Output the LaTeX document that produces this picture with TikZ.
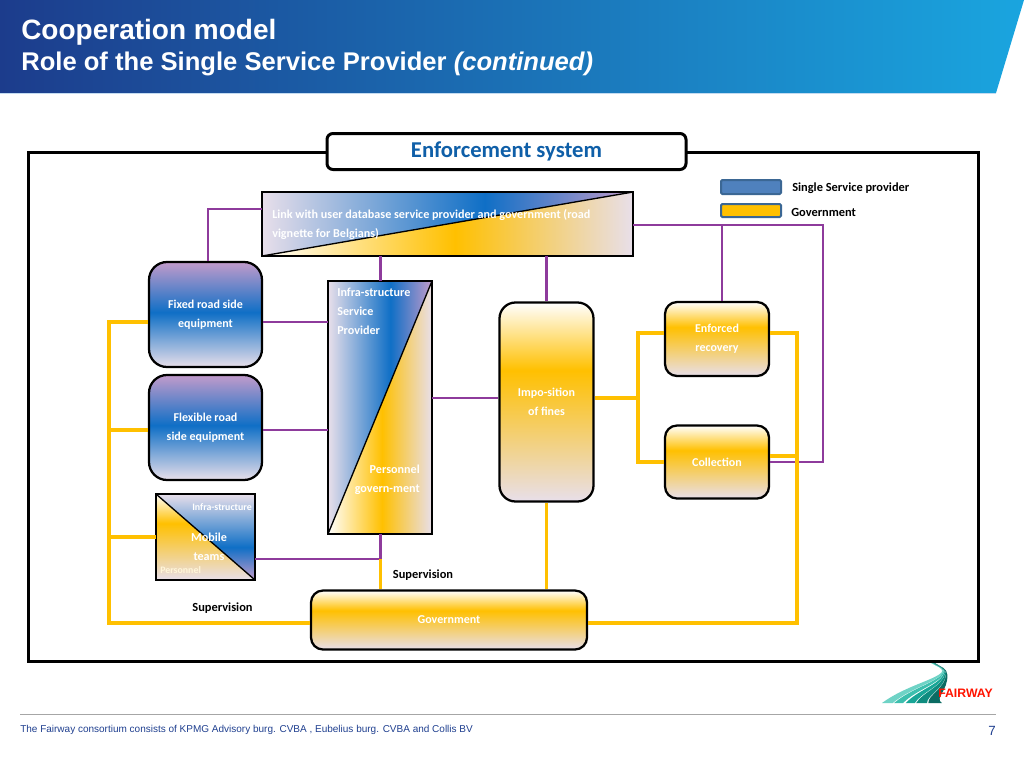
\documentclass[tikz,border=0pt]{standalone}
\usepackage{fontspec}
\setmainfont{Carlito}
\newfontfamily\arialfont{Liberation Sans}
\definecolor{fwpurple}{HTML}{8E3B9C}
\definecolor{fwyellow}{HTML}{FFC000}
\definecolor{fwblue}{HTML}{0F6FC6}
\definecolor{fwlav}{HTML}{E8DFEA}
\definecolor{fwmauve}{HTML}{C29BCB}
\definecolor{fwtitle}{HTML}{0F5FA8}
\definecolor{fwnavy}{HTML}{1F3F8F}
\definecolor{bandleft}{HTML}{1C3C8C}
\definecolor{bandmid}{HTML}{1A57A3}
\definecolor{bandright}{HTML}{1AA5DF}
\definecolor{keyblue}{HTML}{4F81BD}
\definecolor{keyedge}{HTML}{3B6794}
\pgfdeclareverticalshading{bluerise}{100bp}{color(0bp)=(fwlav); color(25bp)=(fwlav); color(51bp)=(fwblue); color(75bp)=(fwmauve); color(100bp)=(fwmauve)}
\pgfdeclareverticalshading{yellowrise}{100bp}{color(0bp)=(fwlav); color(25bp)=(fwlav); color(58bp)=(fwyellow); color(75bp)=(white); color(100bp)=(white)}
\pgfdeclareverticalshading{bluedrop}{100bp}{color(0bp)=(fwmauve); color(25bp)=(fwmauve); color(44bp)=(fwblue); color(75bp)=(fwlav); color(100bp)=(fwlav)}
\pgfdeclarehorizontalshading{bluewide}{100bp}{color(0bp)=(fwlav); color(25bp)=(fwlav); color(55bp)=(fwblue); color(75bp)=(fwmauve); color(100bp)=(fwmauve)}
\pgfdeclarehorizontalshading{yellowwide}{100bp}{color(0bp)=(white); color(25bp)=(white); color(51bp)=(fwyellow); color(75bp)=(fwlav); color(100bp)=(fwlav)}
\tikzset{
  linkp/.style={draw=fwpurple,line width=1.9pt},
  linky/.style={draw=fwyellow,line width=2.4pt},
  blockb/.style={draw=black,line width=1.7pt,shade,shading=bluerise,text=white,align=center,font=\fontsize{9}{14.25}\bfseries,inner sep=0pt},
  blocky/.style={draw=black,line width=1.7pt,shade,shading=yellowrise,text=white,align=center,font=\fontsize{9}{14.25}\bfseries,inner sep=0pt},
  slab/.style={inner sep=0pt,outer sep=0pt},
  slabline/.style={draw=black,line width=1pt},
  intext/.style={text=white,font=\fontsize{9.1}{14.25}\bfseries,inner sep=0pt},
  tinytext/.style={text=white,font=\fontsize{7.4}{8}\bfseries,inner sep=0pt},
  keytext/.style={text=black,font=\fontsize{9.3}{11}\bfseries,inner sep=0pt},
  foottext/.style={text=fwnavy,font=\arialfont\fontsize{7.5}{9}\selectfont,inner sep=0pt}
}
\begin{document}
\begin{tikzpicture}[x=0.75pt,y=-0.75pt,line cap=butt,line join=miter]
\useasboundingbox (0,0) rectangle (1024,768);
% header band
\shade[left color=bandleft,middle color=bandmid,right color=bandright] (0,0) -- (1024,0) -- (996,93) -- (0,93) -- cycle;
\draw[fwblue!25,line width=0.8pt] (0,93.5) -- (996,93.5);
\node[anchor=west,text=white,inner sep=0pt,font=\arialfont\fontsize{21}{24}\bfseries] (head) at (21,32) {Cooperation model};
\node[anchor=west,text=white,inner sep=0pt,font=\arialfont\fontsize{19.2}{22}\bfseries] (subhead) at (21,64) {Role of the Single Service Provider \textit{(continued)}};
% frame
\node[draw=black,line width=2.25pt,minimum width=712.5pt,minimum height=381.75pt,inner sep=0pt] (frame) at (503,406.5) {};
\node[draw=black,fill=white,line width=2.25pt,rounded corners=4.5pt,minimum width=269.25pt,minimum height=27pt,text=fwtitle,font=\fontsize{17}{18}\bfseries,inner sep=0pt] (title) at (506.5,151.5) {Enforcement system};
% key
\node[draw=keyedge,fill=keyblue,line width=1.5pt,rounded corners=1pt,minimum width=45pt,minimum height=10.5pt,inner sep=0pt] (keyb) at (751,187) {};
\node[draw=keyedge,fill=fwyellow,line width=1.5pt,rounded corners=1pt,minimum width=45pt,minimum height=9.75pt,inner sep=0pt] (keyy) at (751,210.5) {};
\node[keytext,anchor=west] (keybtext) at (792,188.5) {Single Service provider};
\node[keytext,anchor=west] (keyytext) at (791,212) {Government};
% blocks
\node[slab,minimum width=278.25pt,minimum height=48pt] (link) at (447.5,224) {};
\shade[shading=bluewide] (link.south west) -- (link.north east) -- (link.north west) -- cycle;
\shade[shading=yellowwide] (link.south west) -- (link.north east) -- (link.south east) -- cycle;
\draw[slabline] (link.south west) -- (link.north east);
\draw[slabline] (link.south west) rectangle (link.north east);
\node[slab,minimum width=78pt,minimum height=189.75pt] (infra) at (380,407.5) {};
\shade[shading=bluewide] (infra.south west) -- (infra.north east) -- (infra.north west) -- cycle;
\shade[shading=yellowwide] (infra.south west) -- (infra.north east) -- (infra.south east) -- cycle;
\draw[slabline] (infra.south west) -- (infra.north east);
\draw[slabline] (infra.south west) rectangle (infra.north east);
\node[slab,minimum width=74.25pt,minimum height=64.5pt] (mobile) at (205.5,537) {};
\shade[shading=bluedrop] (mobile.north west) -- (mobile.north east) -- (mobile.south east) -- cycle;
\shade[shading=yellowrise] (mobile.north west) -- (mobile.south west) -- (mobile.south east) -- cycle;
\draw[slabline] (mobile.north west) -- (mobile.south east);
\draw[slabline] (mobile.south west) rectangle (mobile.north east);
\node[blockb,rounded corners=13.5pt,minimum width=84.75pt,minimum height=78.75pt] (fixed) at (205.5,314.5) {Fixed road side\\equipment};
\node[blockb,rounded corners=13.5pt,minimum width=84.75pt,minimum height=78.75pt] (flex) at (205.5,427.5) {Flexible road\\side equipment};
\node[blocky,rounded corners=12pt,minimum width=70.5pt,minimum height=149.25pt] (impo) at (546.5,402) {Impo-sition\\of fines};
\node[blocky,rounded corners=9pt,minimum width=78pt,minimum height=55.5pt] (recovery) at (717,339) {Enforced\\recovery};
\node[blocky,rounded corners=9pt,minimum width=78pt,minimum height=54.75pt] (collect) at (717,462) {Collection};
\node[blocky,rounded corners=9pt,minimum width=207pt,minimum height=44.25pt] (govt) at (449,620) {Government};
% texts inside the split blocks
\node[intext,anchor=west,align=left] (linktext) at (272,224.5) {Link with user database service provider and government (road\\vignette for Belgians)};
\node[intext,anchor=north west,align=left] (infratext) at (337,288) {Infra-structure\\Service\\Provider};
\node[intext,anchor=east,align=right] (persontext) at (420,480) {Personnel\\govern-ment};
\node[tinytext,anchor=east] (mobinfra) at (252,507) {Infra-structure};
\node[intext,align=center] (mobtext) at (209,547) {Mobile\\teams};
\node[tinytext,anchor=west,text=white!85!fwyellow] (mobperson) at (160,570) {Personnel};
\node[keytext] (supa) at (423,575.5) {Supervision};
\node[keytext] (supb) at (222.5,608) {Supervision};
% connector rows and columns
\coordinate (colleft) at (109,0);
\coordinate (colsplit) at (638,0);
\coordinate (colright) at (797,0);
\coordinate (colfar) at (823,0);
\coordinate (collink) at (208,0);
\coordinate (colinfra) at (380.5,0);
\coordinate (colimpo) at (546.5,0);
\coordinate (colrec) at (722,0);
\coordinate (rowfixed) at (0,322);
\coordinate (rowflex) at (0,430);
\coordinate (rowmob) at (0,537);
\coordinate (rowteam) at (0,559);
\coordinate (rowlink) at (0,209);
\coordinate (rowlinkb) at (0,225);
\coordinate (rowimpo) at (0,398);
\coordinate (rowrec) at (0,333);
\coordinate (rowcol) at (0,462);
\coordinate (rowcolb) at (0,456);
\coordinate (rowgov) at (0,623);
% purple links
\draw[linkp] (link.west |- rowlink) -- (collink |- rowlink) -- (collink |- fixed.north);
\draw[linkp] (colinfra |- link.south) -- (colinfra |- infra.north);
\draw[linkp] (colimpo |- link.south) -- (colimpo |- impo.north);
\draw[linkp] (link.east |- rowlinkb) -- (colfar |- rowlinkb) -- (colfar |- rowcol) -- (collect.east |- rowcol);
\draw[linkp] (colrec |- rowlinkb) -- (colrec |- recovery.north);
\draw[linkp] (fixed.east |- rowfixed) -- (infra.west |- rowfixed);
\draw[linkp] (flex.east |- rowflex) -- (infra.west |- rowflex);
\draw[linkp] (infra.east |- rowimpo) -- (impo.west |- rowimpo);
\draw[linkp] (colinfra |- infra.south) -- (colinfra |- rowteam) -- (mobile.east |- rowteam);
% yellow links
\draw[linky] (fixed.west |- rowfixed) -- (colleft |- rowfixed) -- (colleft |- rowgov) -- (govt.west |- rowgov);
\draw[linky] (flex.west |- rowflex) -- (colleft |- rowflex);
\draw[linky] (mobile.west |- rowmob) -- (colleft |- rowmob);
\draw[linky] (colinfra |- rowteam) -- (colinfra |- govt.north);
\draw[linky] (colimpo |- impo.south) -- (colimpo |- govt.north);
\draw[linky] (impo.east |- rowimpo) -- (colsplit |- rowimpo);
\draw[linky] (recovery.west |- rowrec) -- (colsplit |- rowrec) -- (colsplit |- rowcol) -- (collect.west |- rowcol);
\draw[linky] (recovery.east |- rowrec) -- (colright |- rowrec) -- (colright |- rowgov) -- (govt.east |- rowgov);
\draw[linky] (collect.east |- rowcolb) -- (colright |- rowcolb);
% logo
\foreach \a/\b/\c in {0/0.24/6FD3C6,0.27/0.47/3DBFAE,0.53/0.73/18A596,0.76/1/0F8C7F,1.03/1.33/0B6B62}{
  \definecolor{strand}{HTML}{\c}
  \fill[strand] (882+45*\a,703) .. controls (905+22*\a,686+9*\a) and (935+10*\a,680+8*\a) .. (942+4*\a,672+2*\a) .. controls (943+3*\a,668) and (938+2*\a,667) .. (931+3*\a,663)
    -- (931+3*\b,663) .. controls (938+2*\b,667) and (943+3*\b,668) .. (942+4*\b,672+2*\b) .. controls (935+10*\b,680+8*\b) and (905+22*\b,686+9*\b) .. (882+45*\b,703) -- cycle;
}
\node[anchor=west,text=red!85!orange,inner sep=0pt,font=\arialfont\fontsize{9.2}{10}\bfseries] (brand) at (938,693.5) {FAIRWAY};
% footer
\coordinate (ruleleft) at (20,714);
\coordinate (ruleright) at (996,714);
\draw[black!35,line width=0.6pt] (ruleleft) -- (ruleright);
\node[foottext,anchor=west] (foot) at (20,729.5) {The Fairway consortium consists of KPMG Advisory burg. CVBA , Eubelius burg. CVBA and Collis BV};
\node[foottext,anchor=center,font=\arialfont\fontsize{10}{11}\selectfont] (page) at (992,731) {7};
\end{tikzpicture}
\end{document}
